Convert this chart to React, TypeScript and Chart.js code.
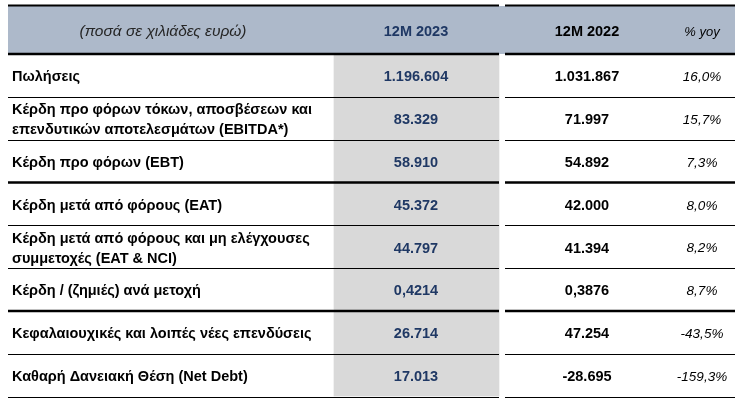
import { useEffect, useRef } from "react";
import { Chart, registerables } from "chart.js";
Chart.register(...registerables);

// ---- data ----
const headerTitle = "(ποσά σε χιλιάδες ευρώ)";
const columnHeaders = ["12M 2023", "12M 2022", "% yoy"];
const rowLabels: string[][] = [
  ["Πωλήσεις"],
  ["Κέρδη προ φόρων τόκων, αποσβέσεων και", "επενδυτικών αποτελεσμάτων (EBITDA*)"],
  ["Κέρδη προ φόρων (EBT)"],
  ["Κέρδη μετά από φόρους (EAT)"],
  ["Κέρδη μετά από φόρους και μη ελέγχουσες", "συμμετοχές (EAT & NCI)"],
  ["Κέρδη / (ζημιές) ανά μετοχή"],
  ["Κεφαλαιουχικές και λοιπές νέες επενδύσεις"],
  ["Καθαρή Δανειακή Θέση (Net Debt)"],
];
const values2023 = [1196604, 83329, 58910, 45372, 44797, 0.4214, 26714, 17013];
const values2022 = [1031867, 71997, 54892, 42000, 41394, 0.3876, 47254, -28695];
const yoyPct = [16.0, 15.7, 7.3, 8.0, 8.2, 8.7, -43.5, -159.3];
const valueDecimals = [0, 0, 0, 0, 0, 4, 0, 0];
const thickRuleAfterRows = [2, 5];

// ---- layout (table units along x) ----
const TABLE_W = 727;
const LABEL_X = 4;
const COL2023_SPAN: [number, number] = [326, 491];
const GAP_END = 497;
const TITLE_CX = 155;
const C2023 = 408;
const C2022 = 579;
const CYOY = 694;
const HEADER_TOP = 6;

const HEADER_BG = "#adb9ca";
const GRAY = "#d9d9d9";
const BLUE = "#1f3864";
const FONT = "'Liberation Sans', Arial, sans-serif";

function fmt(v: number, d: number): string {
  const s = Math.abs(v).toFixed(d);
  const [int, frac] = s.split(".");
  const g = int.replace(/\B(?=(\d{3})+(?!\d))/g, ".");
  return (v < 0 ? "-" : "") + g + (frac ? "," + frac : "");
}

const tablePlugin = {
  id: "tablePlugin",
  beforeDatasetsDraw(chart: any) {
    const { ctx, chartArea, scales } = chart;
    const x = scales.x;
    ctx.save();
    ctx.fillStyle = HEADER_BG;
    const x0 = x.getPixelForValue(0);
    const x1 = x.getPixelForValue(TABLE_W);
    ctx.fillRect(x0, HEADER_TOP, x1 - x0, chartArea.top - HEADER_TOP);
    ctx.restore();
  },
  afterDatasetsDraw(chart: any) {
    const { ctx, chartArea, scales } = chart;
    const x = scales.x;
    const y = scales.y;
    const n = rowLabels.length;
    const rowH = (chartArea.bottom - chartArea.top) / n;

    const rule = (yy: number, w: number) => {
      ctx.save();
      ctx.strokeStyle = "#000";
      ctx.lineWidth = w;
      ctx.beginPath();
      ctx.moveTo(x.getPixelForValue(0), yy);
      ctx.lineTo(x.getPixelForValue(COL2023_SPAN[1]), yy);
      ctx.moveTo(x.getPixelForValue(GAP_END), yy);
      ctx.lineTo(x.getPixelForValue(TABLE_W), yy);
      ctx.stroke();
      ctx.restore();
    };
    rule(HEADER_TOP - 0.5, 2);
    rule(chartArea.top, 2.5);
    for (let i = 0; i < n; i++) {
      const yy = y.getPixelForValue(i) + rowH / 2;
      const thick = thickRuleAfterRows.includes(i);
      rule(thick ? yy : Math.round(yy) + 0.5, thick ? 2.5 : 1);
    }

    ctx.save();
    ctx.textBaseline = "middle";
    // header
    const hy = (HEADER_TOP + chartArea.top) / 2 + 2;
    ctx.textAlign = "center";
    ctx.fillStyle = "#262626";
    ctx.font = `italic 15.5px ${FONT}`;
    ctx.fillText(headerTitle, x.getPixelForValue(TITLE_CX), hy);
    ctx.font = `bold 14.5px ${FONT}`;
    ctx.fillStyle = BLUE;
    ctx.fillText(columnHeaders[0], x.getPixelForValue(C2023), hy);
    ctx.fillStyle = "#000";
    ctx.fillText(columnHeaders[1], x.getPixelForValue(C2022), hy);
    ctx.font = `italic 13px ${FONT}`;
    ctx.fillText(columnHeaders[2], x.getPixelForValue(CYOY), hy);

    for (let i = 0; i < n; i++) {
      const cy = y.getPixelForValue(i) + 2;
      const lines = rowLabels[i];
      ctx.textAlign = "left";
      ctx.font = `bold 14.5px ${FONT}`;
      ctx.fillStyle = "#000";
      lines.forEach((ln, k) => {
        const off = (k - (lines.length - 1) / 2) * 20;
        ctx.fillText(ln, x.getPixelForValue(LABEL_X), cy + off);
      });
      ctx.textAlign = "center";
      ctx.fillStyle = BLUE;
      ctx.fillText(fmt(values2023[i], valueDecimals[i]), x.getPixelForValue(C2023), cy);
      ctx.fillStyle = "#000";
      ctx.fillText(fmt(values2022[i], valueDecimals[i]), x.getPixelForValue(C2022), cy);
      ctx.font = `italic 13.5px ${FONT}`;
      ctx.fillText(fmt(yoyPct[i], 1) + "%", x.getPixelForValue(CYOY), cy);
    }
    ctx.restore();
  },
};

export default function App() {
  const ref = useRef<HTMLCanvasElement | null>(null);
  useEffect(() => {
    if (!ref.current) return;
    const chart = new Chart(ref.current, {
      type: "bar",
      data: {
        labels: rowLabels.map((l) => l.join(" ")),
        datasets: [
          {
            data: rowLabels.map(() => COL2023_SPAN) as any,
            backgroundColor: GRAY,
            borderWidth: 0,
            barPercentage: 1,
            categoryPercentage: 1,
            grouped: false,
          } as any,
        ],
      },
      options: {
        indexAxis: "y",
        animation: false,
        responsive: false,
        devicePixelRatio: 1,
        layout: { padding: { left: 8, right: 744 - 8 - TABLE_W, top: 54, bottom: 5.5 } },
        plugins: { legend: { display: false }, tooltip: { enabled: false } },
        scales: {
          x: { type: "linear", min: 0, max: TABLE_W, display: false },
          y: { type: "category", display: false, offset: true },
        },
      },
      plugins: [tablePlugin],
    });
    return () => chart.destroy();
  }, []);
  return (
    <div style={{ position: "absolute", left: 0, top: 0, width: 744, height: 402, background: "#fff" }}>
      <canvas ref={ref} width={744} height={402} />
    </div>
  );
}
